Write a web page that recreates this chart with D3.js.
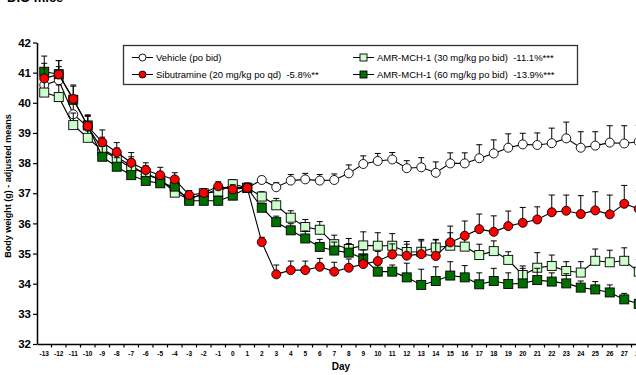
<!DOCTYPE html>
<html><head><meta charset="utf-8">
<script src="https://cdn.jsdelivr.net/npm/d3@7"></script>
<style>
html,body{margin:0;padding:0;background:#fff;}
svg{display:block;font-family:"Liberation Sans",Arial,sans-serif;}
</style></head>
<body><svg id="c" width="636" height="375"></svg>
<script>
const days = d3.range(-13, 29);
const yTicks = [32,33,34,35,36,37,38,39,40,41,42];

const vehicle = [40.59,40.75,39.62,39.2,38.46,38.2,37.91,37.62,37.45,37.1,36.85,36.95,37.15,37.2,37.18,
  37.44,37.2,37.42,37.46,37.42,37.44,37.66,37.97,38.07,38.12,
  37.83,37.86,37.68,37.99,37.99,38.16,38.32,38.51,38.62,38.6,38.66,38.82,38.51,38.58,38.68,38.65,38.71];
const vehicleErr = [0.45,0.45,0.45,0.35,0.4,0.3,0.3,0.25,0.25,0.2,0.15,0.15,0.15,0.15,0.15,
  0.12,0.15,0.2,0.2,0.2,0.2,0.28,0.27,0.25,0.23,
  0.25,0.32,0.36,0.35,0.35,0.45,0.45,0.46,0.37,0.4,0.5,0.54,0.53,0.46,0.56,0.59,0.55];

const sibutramine = [40.81,40.94,40.13,39.23,38.69,38.36,38.01,37.77,37.6,37.46,36.94,37.01,37.23,37.13,37.18,
  35.38,34.31,34.45,34.45,34.56,34.4,34.53,34.65,34.75,34.97,
  34.93,34.98,34.92,35.37,35.59,35.81,35.72,35.91,36.02,36.13,36.37,36.42,36.31,36.43,36.3,36.65,36.48];
const sibutramineErr = [0.5,0.46,0.46,0.35,0.41,0.32,0.34,0.24,0.26,0.22,0.15,0.14,0.15,0.15,0.15,
  0.16,0.31,0.3,0.3,0.28,0.31,0.29,0.3,0.32,0.35,
  0.38,0.49,0.55,0.54,0.49,0.5,0.53,0.5,0.51,0.42,0.57,0.52,0.61,0.62,0.64,0.61,0.6];

const amr30 = [40.34,40.19,39.26,38.84,38.42,38.15,37.83,37.66,37.45,37.02,36.8,37.0,37.05,37.3,37.18,
  36.89,36.6,36.19,35.88,35.79,35.31,35.15,35.27,35.26,35.26,
  35.05,35.06,35.2,35.26,35.23,34.95,35.08,34.79,34.29,34.53,34.59,34.42,34.37,34.76,34.71,34.76,34.4];
const amr30Err = [0.4,0.4,0.4,0.35,0.35,0.3,0.3,0.25,0.25,0.2,0.15,0.15,0.15,0.15,0.15,
  0.16,0.23,0.23,0.25,0.27,0.3,0.35,0.45,0.43,0.4,
  0.35,0.36,0.25,0.43,0.27,0.36,0.34,0.27,0.3,0.5,0.36,0.31,0.36,0.39,0.4,0.43,0.4];

const amr60 = [41.03,40.95,40.1,39.25,38.21,37.88,37.6,37.41,37.33,37.22,36.75,36.75,36.75,36.92,37.18,
  36.52,36.04,35.77,35.5,35.22,35.1,35.03,34.84,34.4,34.4,
  34.21,33.96,34.09,34.27,34.21,33.98,34.09,33.99,34.01,34.12,34.07,34.01,33.87,33.81,33.71,33.48,33.33];
const amr60Err = [0.52,0.45,0.45,0.35,0.35,0.3,0.3,0.25,0.25,0.2,0.15,0.15,0.15,0.15,0.15,
  0.15,0.2,0.22,0.25,0.25,0.28,0.3,0.28,0.22,0.22,
  0.47,0.52,0.47,0.46,0.39,0.38,0.42,0.37,0.5,0.39,0.29,0.32,0.22,0.26,0.25,0.2,0.2];

const seriesNames = ["Vehicle (po bid)", "Sibutramine (20 mg/kg po qd)  -5.8%**",
  "AMR-MCH-1 (30 mg/kg po bid)  -11.1%***", "AMR-MCH-1 (60 mg/kg po bid)  -13.9%***"];

const series = [
  {name: seriesNames[0], vals: vehicle, err: vehicleErr, shape: "circle", fill: "#ffffff"},
  {name: seriesNames[2], vals: amr30, err: amr30Err, shape: "square", fill: "#ccffcc"},
  {name: seriesNames[3], vals: amr60, err: amr60Err, shape: "square", fill: "#007000"},
  {name: seriesNames[1], vals: sibutramine, err: sibutramineErr, shape: "circle", fill: "#ff0000"}
];

const svg = d3.select("#c");
const x = d3.scaleBand().domain(days).range([37, 646]).padding(0);
const xc = d => x(d) + x.bandwidth() / 2;
const y = d3.scaleLinear().domain([32, 42]).range([344, 42.5]);

// title (cut off at top, as in the reference)
svg.append("text").attr("x", 7).attr("y", 2).attr("font-size", 13).attr("font-weight", "bold").text("DIO mice");

// Y axis
const gy = svg.append("g").attr("transform", "translate(37,0)")
  .call(d3.axisLeft(y).tickValues(yTicks).tickSize(4).tickSizeOuter(0).tickFormat(d3.format("d")));
gy.select(".domain").attr("stroke", "#000").attr("stroke-width", 1.5);
gy.selectAll(".tick line").attr("stroke", "#000").attr("stroke-width", 1.2);
gy.selectAll(".tick text").attr("font-size", 11.5).attr("font-weight", "bold").attr("fill", "#000")
  .attr("x", -6).attr("font-family", "Liberation Sans, Arial, sans-serif");

// X axis
const gx = svg.append("g").attr("transform", "translate(0,344)")
  .call(d3.axisBottom(x).tickSize(0).tickSizeOuter(0));
gx.select(".domain").attr("stroke", "#000").attr("stroke-width", 1.5);
gx.selectAll(".tick text").attr("font-size", 6.5).attr("font-weight", "bold").attr("fill", "#000")
  .attr("y", 7).attr("font-family", "Liberation Sans, Arial, sans-serif");
gx.selectAll(".btick").data(days.slice(1)).enter().append("line").attr("class", "btick")
  .attr("x1", d => x(d)).attr("x2", d => x(d)).attr("y1", 0).attr("y2", 3.5)
  .attr("stroke", "#000").attr("stroke-width", 1.2);

// axis titles
svg.append("text").attr("transform", "translate(11,186) rotate(-90)").attr("text-anchor", "middle")
  .attr("font-size", 9).attr("font-weight", "bold").text("Body weight (g) - adjusted means");
svg.append("text").attr("x", 341).attr("y", 370).attr("text-anchor", "middle")
  .attr("font-size", 10).attr("font-weight", "bold").text("Day");

// data
const line = d3.line().x((v, i) => xc(days[i])).y(v => y(v));
series.forEach(s => {
  const g = svg.append("g");
  g.append("path").attr("d", line(s.vals)).attr("fill", "none").attr("stroke", "#000").attr("stroke-width", 1.1);
  s.vals.forEach((v, i) => {
    const cx = xc(days[i]), ty = y(v + s.err[i]);
    g.append("line").attr("x1", cx).attr("x2", cx).attr("y1", y(v)).attr("y2", ty).attr("stroke", "#000").attr("stroke-width", 1);
    g.append("line").attr("x1", cx - 3).attr("x2", cx + 3).attr("y1", ty).attr("y2", ty).attr("stroke", "#000").attr("stroke-width", 1);
  });
  s.vals.forEach((v, i) => {
    const cx = xc(days[i]), cy = y(v);
    if (s.shape === "circle") {
      g.append("circle").attr("cx", cx).attr("cy", cy).attr("r", 4.5).attr("fill", s.fill).attr("stroke", "#000").attr("stroke-width", 0.9);
    } else {
      g.append("rect").attr("x", cx - 4.5).attr("y", cy - 4.5).attr("width", 9).attr("height", 9).attr("fill", s.fill).attr("stroke", "#000").attr("stroke-width", 0.9);
    }
  });
});

// legend
const lg = svg.append("g");
lg.append("rect").attr("x", 123.5).attr("y", 45.5).attr("width", 454).attr("height", 39)
  .attr("fill", "#fff").attr("stroke", "#333").attr("stroke-width", 1.3);
const legItems = [
  {s: series[0], x: 132, y: 57.5},
  {s: series[3], x: 132, y: 74.5},
  {s: series[1], x: 353, y: 57.5},
  {s: series[2], x: 353, y: 74.5}
];
legItems.forEach(it => {
  lg.append("line").attr("x1", it.x).attr("x2", it.x + 21).attr("y1", it.y).attr("y2", it.y).attr("stroke", "#000").attr("stroke-width", 1);
  const mx = it.x + 10.5;
  if (it.s.shape === "circle") {
    lg.append("circle").attr("cx", mx).attr("cy", it.y).attr("r", 3.5).attr("fill", it.s.fill).attr("stroke", "#000").attr("stroke-width", 0.9);
  } else {
    lg.append("rect").attr("x", mx - 3.5).attr("y", it.y - 3.5).attr("width", 7).attr("height", 7).attr("fill", it.s.fill).attr("stroke", "#000").attr("stroke-width", 0.9);
  }
  lg.append("text").attr("x", it.x + 24).attr("y", it.y + 3.3).attr("font-size", 9.5)
    .style("white-space", "pre").text(it.s.name);
});
</script></body></html>
